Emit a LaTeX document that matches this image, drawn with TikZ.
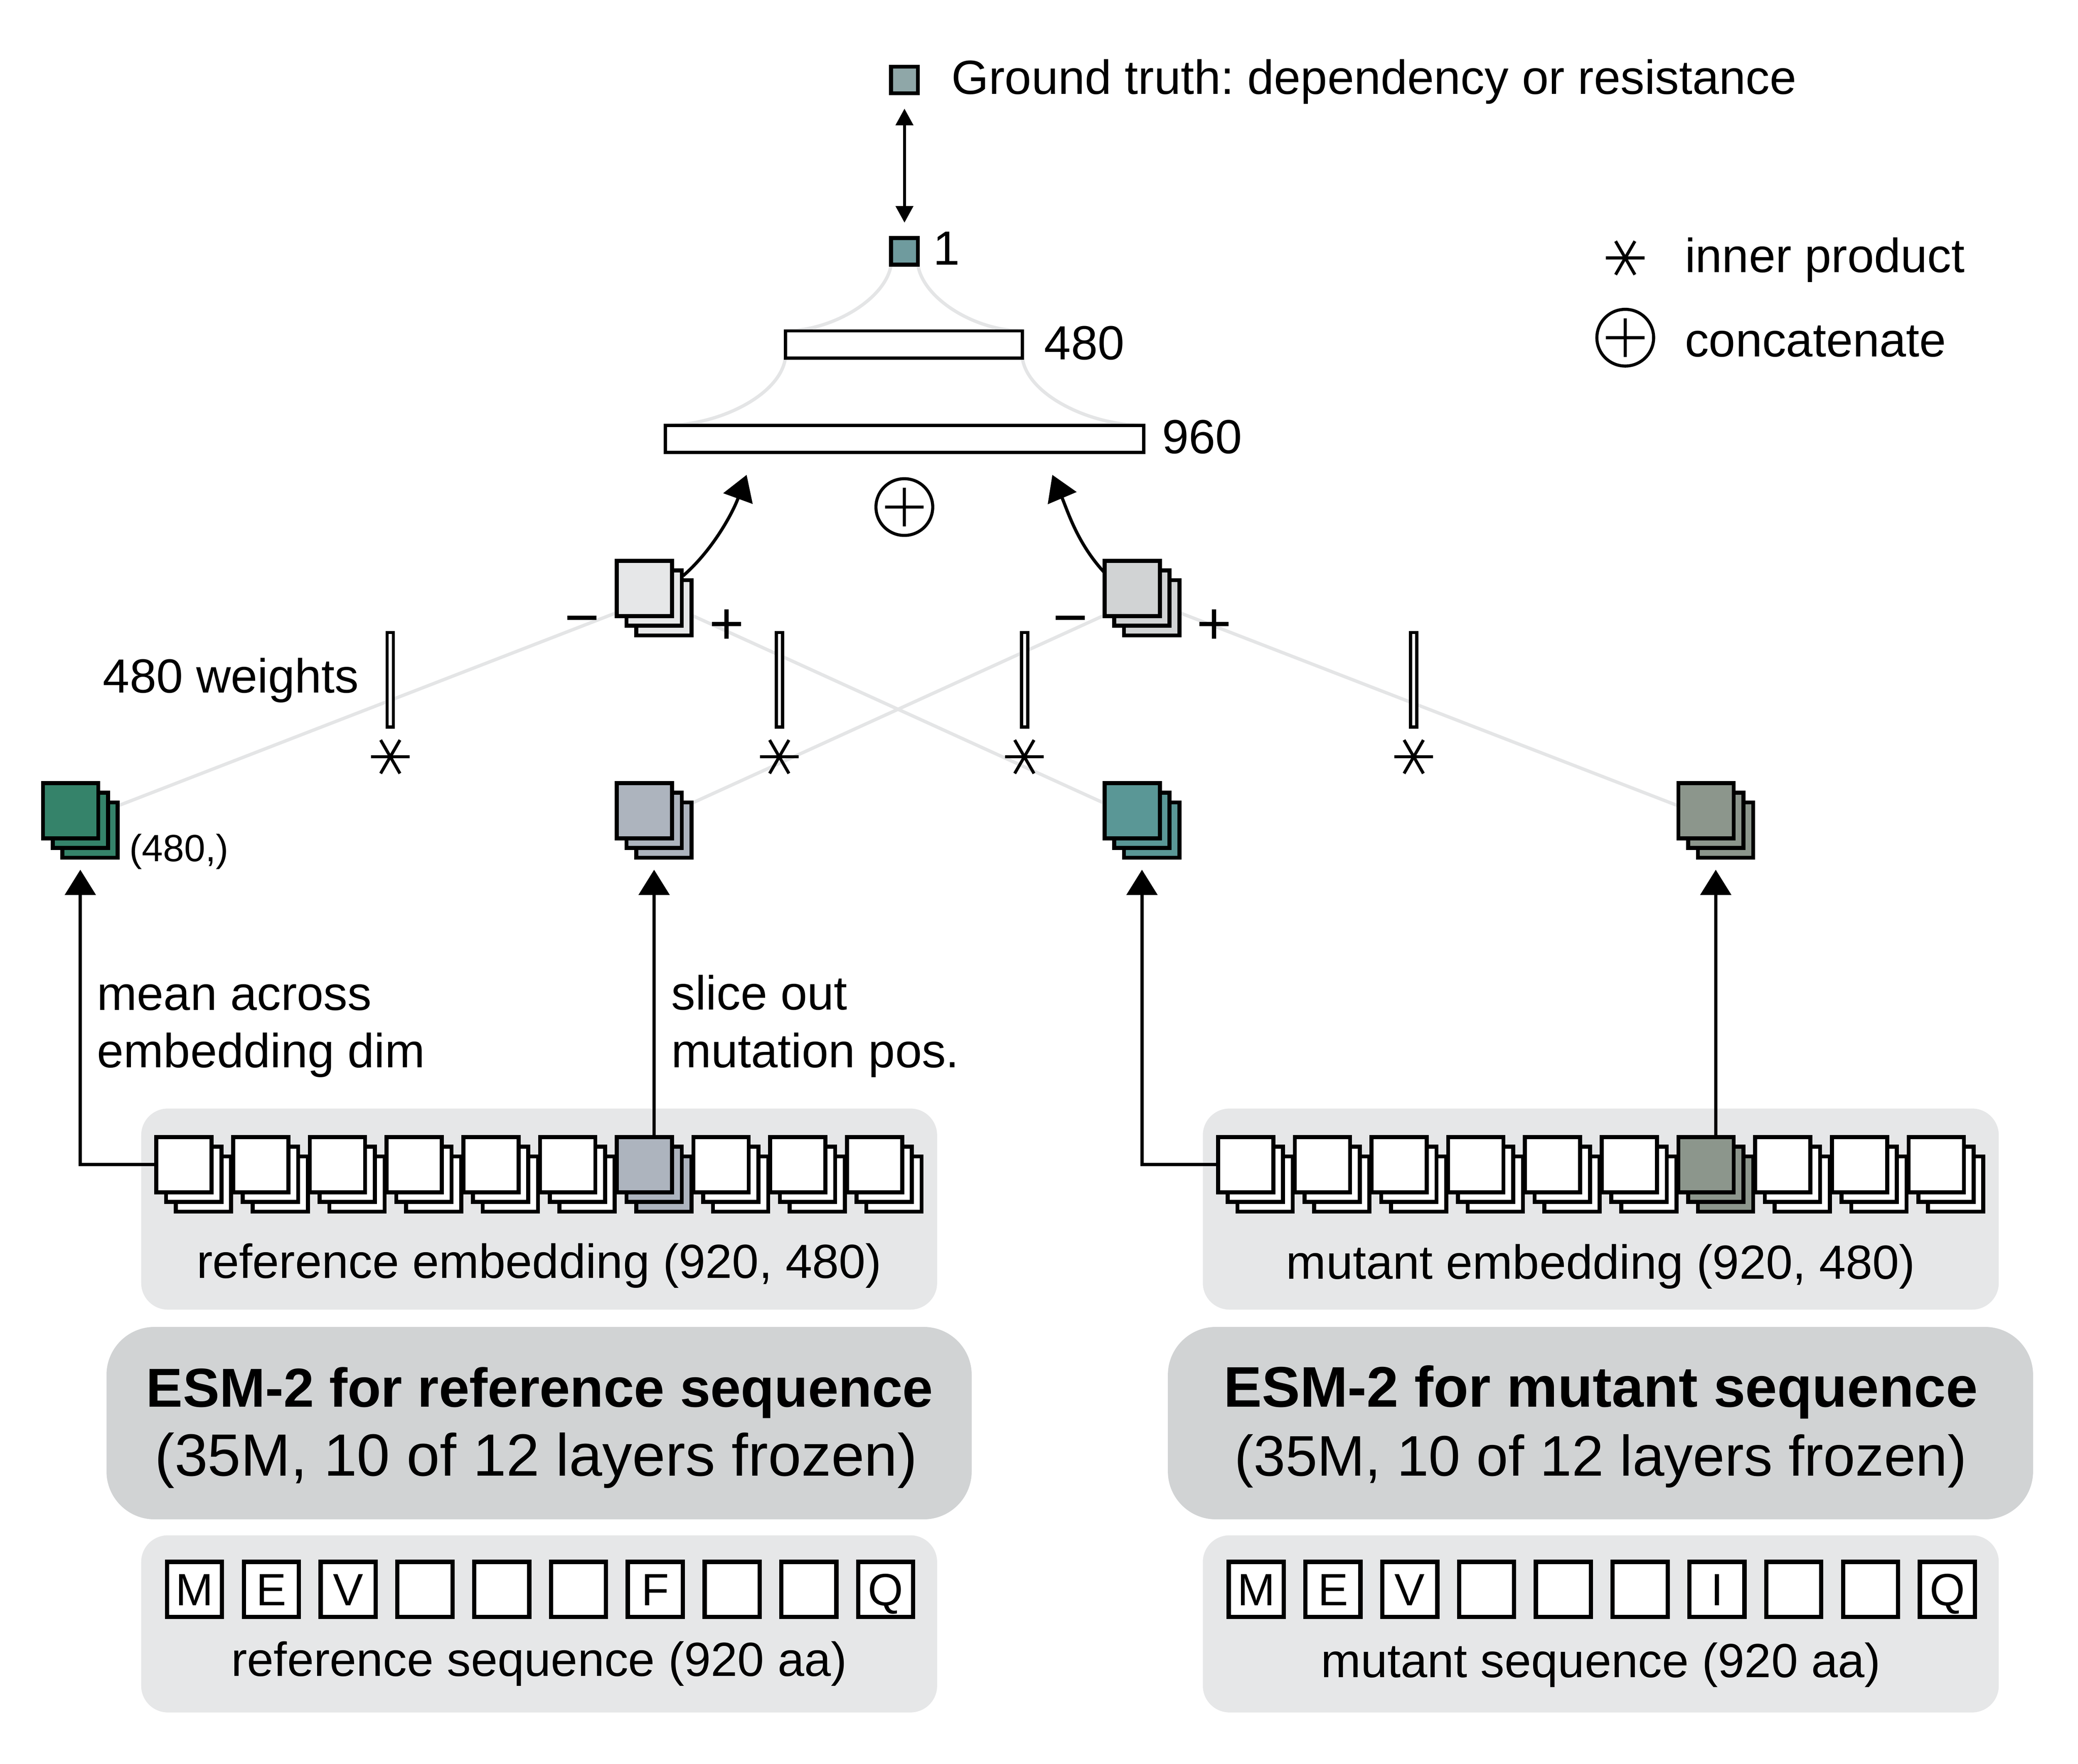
\documentclass[tikz,border=0pt]{standalone}
\usepackage{fontspec}
\setmainfont{Liberation Sans}
\usetikzlibrary{arrows.meta,calc}
\pgfdeclarelayer{bg}
\pgfsetlayers{bg,main}
\frenchspacing
\definecolor{panelL}{HTML}{E6E7E8}
\definecolor{panelD}{HTML}{D1D3D4}
\definecolor{cgreen}{HTML}{35836A}
\definecolor{cgray}{HTML}{ADB4BE}
\definecolor{cteal}{HTML}{5A9796}
\definecolor{cgg}{HTML}{8C968C}
\definecolor{cgt}{HTML}{8FA7A8}
\definecolor{cout}{HTML}{6F9B9E}
\definecolor{lnk}{HTML}{E4E5E6}
\newcommand\stk[4]{%
  \node[sq, fill=#4] (#1-c) at ({#2+14.6},{#3+14.6}) {};
  \node[sq, fill=#4] (#1-b) at ({#2+7.3},{#3+7.3}) {};
  \node[sq, fill=#4] (#1) at ({#2},{#3}) {};}
\tikzset{
  astpic/.pic={\draw[line width=2.3pt] (-14.5,0) -- (14.5,0) (-7.25,-12.56) -- (7.25,12.56) (7.25,-12.56) -- (-7.25,12.56);},
  opluspic/.pic={\draw[line width=2.3pt] (0,0) circle[radius=21.3pt] (-14.5,0) -- (14.5,0) (0,-14.5) -- (0,14.5);}
}
\begin{document}
\begin{tikzpicture}[x=1pt,y=-1pt,
  txt/.style={font=\fontsize{36}{43}\selectfont, inner sep=0pt, outer sep=0pt},
  smalltxt/.style={font=\fontsize{28.5}{34}\selectfont, inner sep=0pt},
  signtxt/.style={font=\fontsize{45}{50}\selectfont, inner sep=0pt},
  titleL/.style={font=\fontsize{41.2}{50}\selectfont\bfseries, inner sep=0pt},
  subL/.style={font=\fontsize{44.8}{52}\selectfont, inner sep=0pt},
  titleR/.style={font=\fontsize{43}{50}\selectfont\bfseries, inner sep=0pt},
  subR/.style={font=\fontsize{43}{52}\selectfont, inner sep=0pt},
  sq/.style={draw, line width=3pt, rectangle, inner sep=0pt, outer sep=0pt, minimum size=41.5pt},
  smallsq/.style={draw, line width=3pt, rectangle, inner sep=0pt, outer sep=0pt, minimum size=20pt},
  bar/.style={draw, line width=2.4pt, fill=white, rectangle, inner sep=0pt, outer sep=0pt},
  seqbox/.style={draw, line width=3.2pt, fill=white, rectangle, inner sep=0pt, outer sep=0pt,
    minimum size=41.3pt, font=\fontsize{34}{40}\selectfont, text height=24.4pt, text depth=0pt},
  arr/.style={line width=2.4pt, -{Triangle[width=23pt,length=19pt]}},
  dbl/.style={line width=2.2pt, {Triangle[width=13pt,length=12.5pt]}-{Triangle[width=13pt,length=12.5pt]}, shorten <=11.5pt, shorten >=11.5pt},
  link/.style={draw=lnk, line width=2.5pt},
  lightpanel/.style={fill=panelL, rounded corners=20pt, inner sep=0pt, outer sep=0pt},
  darkpanel/.style={fill=panelD, rounded corners=36pt, inner sep=0pt, outer sep=0pt}
]
\useasboundingbox (0,0) rectangle (1560,1324.6);

% ---------- top: output ----------
\node[smallsq, fill=cgt] (gt) at (679,60.1) {};
\node[txt, anchor=base west] (gtlab) at (714.4,70.7) {Ground truth: dependency or resistance};
\node[smallsq, fill=cout] (out) at (679,188.7) {};
\node[txt, anchor=base west] (outlab) at (700.5,199) {1};
\draw[dbl] (gt) -- (out);
\node[bar, minimum width=177.9pt, minimum height=20.4pt] (b480) at (678.55,258.7) {};
\node[txt, anchor=base west] (l480) at (784,270) {480};
\node[bar, minimum width=359.1pt, minimum height=20.3pt] (b960) at (679.05,329.65) {};
\node[txt, anchor=base west] (l960) at (872.5,340.5) {960};
\pic (cat) at (678.9,380.8) {opluspic};

% ---------- legend ----------
\pic (legast) at (1220.1,193.7) {astpic};
\node[txt, anchor=base west] (legast-lab) at (1264.9,204.6) {inner product};
\pic (legcat) at (1220.1,253.6) {opluspic};
\node[txt, anchor=base west] (legcat-lab) at (1264.9,268) {concatenate};

% ---------- difference stacks ----------
\stk{topL}{483.75}{441.9}{panelL}
\stk{topR}{850}{441.9}{panelD}
\node[signtxt] (mL) at (437,470.9) {−};
\node[signtxt] (pL) at (545.5,470.9) {+};
\node[signtxt] (mR) at (803.6,470.9) {−};
\node[signtxt] (pR) at (911.5,470.9) {+};

\coordinate (tipL) at (560.5,356.6);
\coordinate (tipR) at (790,356.6);
\draw[arr] ($(topL-b.north east)+(1,4)$) .. controls +(22.6,-19.7) and +(-10.3,28.2) .. (tipL);
\draw[arr] ($(topR.north west)+(0,9)$) .. controls +(-20.4,-21.9) and +(11.7,27.6) .. (tipR);

% ---------- weights and inner products ----------
\node[bar, minimum width=4.7pt, minimum height=70.9pt] (w1) at (293,510.5) {};
\node[bar, minimum width=4.7pt, minimum height=70.9pt] (w2) at (585.15,510.5) {};
\node[bar, minimum width=4.7pt, minimum height=70.9pt] (w3) at (769.15,510.5) {};
\node[bar, minimum width=4.7pt, minimum height=70.9pt] (w4) at (1061.35,510.5) {};
\pic (ast1) at (293,568.3) {astpic};
\pic (ast2) at (585,568.3) {astpic};
\pic (ast3) at (769,568.3) {astpic};
\pic (ast4) at (1061.3,568.3) {astpic};
\node[txt, anchor=base east] (wlab) at (269.5,520.4) {480 weights};

% ---------- pooled embeddings ----------
\stk{green}{53}{608.8}{cgreen}
\stk{gray}{483.75}{608.8}{cgray}
\stk{teal}{850}{608.8}{cteal}
\stk{gg}{1280.75}{608.8}{cgg}
\node[smalltxt, anchor=base west] (shape) at (97,646.9) {(480,)};

% ---------- embeddings ----------
\foreach \i in {0,...,9}{%
  \ifnum\i=6 \def\fc{cgray}\else\def\fc{white}\fi
  \stk{re\i}{138.15+57.6*\i}{874.6}{\fc}
  \ifnum\i=6 \def\fc{cgg}\else\def\fc{white}\fi
  \stk{me\i}{935.15+57.6*\i}{874.6}{\fc}
}
\node[txt, anchor=base] (relab) at (404.75,960) {reference embedding (920, 480)};
\node[txt, anchor=base] (melab) at (1201.75,960.5) {mutant embedding (920, 480)};

\draw[arr] (re0.west) -| ($(green-b |- green-c.south)+(0,9)$);
\draw[arr] (re6-b |- re6.north) -- ($(gray-b |- gray-c.south)+(0,9)$);
\draw[arr] (me0.west) -| ($(teal-b |- teal-c.south)+(0,9)$);
\draw[arr] (me6-b |- me6.north) -- ($(gg-b |- gg-c.south)+(0,9)$);

\node[txt, anchor=base west] (mean1) at (72.9,758.5) {mean across};
\node[txt, anchor=base west] (mean2) at (72.9,801.6) {embedding dim};
\node[txt, anchor=base west] (slice1) at (504,758.3) {slice out};
\node[txt, anchor=base west] (slice2) at (504,801.6) {mutation pos.};

% ---------- ESM-2 ----------
\node[titleL, anchor=base] (esmL1) at (405.2,1056.5) {ESM-2 for reference sequence};
\node[subL, anchor=base] (esmL2) at (402.5,1108.5) {(35M, 10 of 12 layers frozen)};
\node[titleR, anchor=base] (esmR1) at (1201.7,1056.5) {ESM-2 for mutant sequence};
\node[subR, anchor=base] (esmR2) at (1201.7,1108.5) {(35M, 10 of 12 layers frozen)};

% ---------- sequences ----------
\foreach \i/\l in {0/M,1/E,2/V,3/{},4/{},5/{},6/F,7/{},8/{},9/Q}{%
  \node[seqbox] (rs\i) at ({146.05+57.65*\i},1193.6) {\l};
}
\foreach \i/\l in {0/M,1/E,2/V,3/{},4/{},5/{},6/I,7/{},8/{},9/Q}{%
  \node[seqbox] (ms\i) at ({943.05+57.65*\i},1193.6) {\l};
}
\node[txt, anchor=base] (rslab) at (404.75,1258.6) {reference sequence (920 aa)};
\node[txt, anchor=base] (mslab) at (1201.75,1259.6) {mutant sequence (920 aa)};

% ---------- background layer ----------
\begin{pgfonlayer}{bg}
  \node[lightpanel, minimum width=597.5pt, minimum height=151pt] (reP) at (404.75,908) {};
  \node[lightpanel, minimum width=597.5pt, minimum height=151pt] (meP) at (1201.75,908) {};
  \node[darkpanel, minimum width=649.5pt, minimum height=144.5pt] (esmLP) at (404.7,1068.75) {};
  \node[darkpanel, minimum width=649.5pt, minimum height=144.5pt] (esmRP) at (1201.5,1068.75) {};
  \node[lightpanel, minimum width=597.5pt, minimum height=133pt] (rsP) at (404.75,1219.5) {};
  \node[lightpanel, minimum width=597.5pt, minimum height=133pt] (msP) at (1201.75,1219.5) {};
  % connections of the dense layers
  \draw[link] (out.south west) .. controls +(-4,26) and +(35,0) .. (b480.north west);
  \draw[link] (out.south east) .. controls +(4,26) and +(-35,0) .. (b480.north east);
  \draw[link] (b480.south west) .. controls +(-4,28) and +(40,0) .. (b960.north west);
  \draw[link] (b480.south east) .. controls +(4,28) and +(-40,0) .. (b960.north east);
  % inner-product connections
  \draw[link] (green-b.center) -- (topL-b.center);
  \draw[link] (topL-b.center) -- (teal-b.center);
  \draw[link] (gray-b.center) -- (topR-b.center);
  \draw[link] (topR-b.center) -- (gg-b.center);
\end{pgfonlayer}
\end{tikzpicture}
\end{document}
